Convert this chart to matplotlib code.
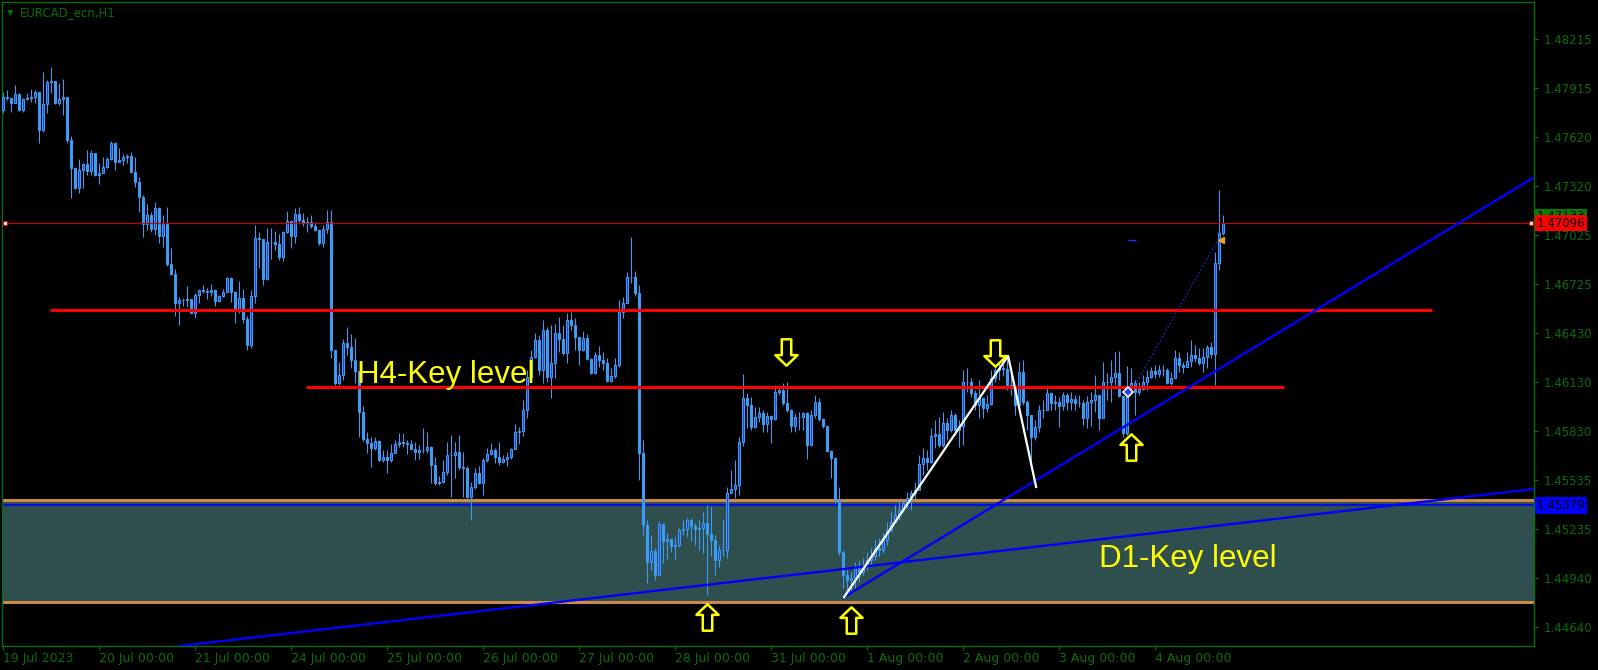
import numpy as np
import matplotlib
matplotlib.use("Agg")
import matplotlib.pyplot as plt
from matplotlib.path import Path

# ---- data (bar index 0 = 19 Jul 00:00) ----
first_open = 1.47783
closes = [
    1.47862, 1.47856, 1.47826, 1.47880, 1.47783, 1.47850, 1.47856, 1.47862, 1.47893, 1.47662,
    1.47820, 1.47953, 1.47960, 1.47826, 1.47850, 1.47862, 1.47601, 1.47431, 1.47309, 1.47418,
    1.47455, 1.47412, 1.47522, 1.47388, 1.47400, 1.47437, 1.47485, 1.47583, 1.47467, 1.47479,
    1.47497, 1.47504, 1.47406, 1.47345, 1.47254, 1.47090, 1.47145, 1.47060, 1.47187, 1.47017,
    1.47090, 1.46847, 1.46786, 1.46610, 1.46628, 1.46628, 1.46634, 1.46549, 1.46658, 1.46689,
    1.46683, 1.46677, 1.46689, 1.46622, 1.46652, 1.46677, 1.46762, 1.46677, 1.46573, 1.46640,
    1.46512, 1.46354, 1.46652, 1.47005, 1.46999, 1.46756, 1.46981, 1.46981, 1.46969, 1.46889,
    1.47041, 1.47108, 1.47017, 1.47151, 1.47114, 1.47096, 1.47102, 1.47078, 1.47054, 1.46975,
    1.47060, 1.47102, 1.46324, 1.46123, 1.46172, 1.46367, 1.46342, 1.46263, 1.46196, 1.45947,
    1.45783, 1.45759, 1.45728, 1.45771, 1.45655, 1.45673, 1.45655, 1.45698, 1.45753, 1.45765,
    1.45759, 1.45753, 1.45722, 1.45704, 1.45716, 1.45716, 1.45734, 1.45625, 1.45515, 1.45521,
    1.45582, 1.45686, 1.45686, 1.45704, 1.45613, 1.45607, 1.45430, 1.45491, 1.45576, 1.45515,
    1.45655, 1.45692, 1.45716, 1.45673, 1.45643, 1.45661, 1.45673, 1.45722, 1.45825, 1.45831,
    1.45959, 1.46160, 1.46281, 1.46385, 1.46202, 1.46446, 1.46160, 1.46245, 1.46427, 1.46391,
    1.46306, 1.46506, 1.46476, 1.46403, 1.46324, 1.46397, 1.46269, 1.46184, 1.46294, 1.46263,
    1.46245, 1.46135, 1.46166, 1.46233, 1.46555, 1.46610, 1.46768, 1.46768, 1.46671, 1.45698,
    1.45260, 1.45035, 1.45102, 1.44956, 1.45266, 1.45163, 1.45175, 1.45132, 1.45138, 1.45230,
    1.45236, 1.45290, 1.45254, 1.45236, 1.45242, 1.45272, 1.45205, 1.45169, 1.45047, 1.45108,
    1.45108, 1.45455, 1.45479, 1.45503, 1.45765, 1.46032, 1.45990, 1.45856, 1.45917, 1.45941,
    1.45874, 1.45923, 1.45904, 1.46069, 1.46081, 1.46002, 1.45959, 1.45862, 1.45917, 1.45917,
    1.45941, 1.45746, 1.45929, 1.46008, 1.45904, 1.45862, 1.45710, 1.45667, 1.45412, 1.45096,
    1.44956, 1.44926, 1.44938, 1.44999, 1.44974, 1.45011, 1.45047, 1.45071, 1.45120, 1.45108,
    1.45169, 1.45230, 1.45278, 1.45321, 1.45351, 1.45394, 1.45424, 1.45455, 1.45473, 1.45631,
    1.45667, 1.45643, 1.45801, 1.45813, 1.45746, 1.45880, 1.45838, 1.45929, 1.45838, 1.45862,
    1.46129, 1.46129, 1.46063, 1.45990, 1.46032, 1.45971, 1.45996, 1.46154, 1.46202, 1.46215,
    1.46209, 1.46111, 1.46093, 1.45990, 1.46190, 1.46008, 1.45929, 1.45795, 1.45856, 1.45959,
    1.45959, 1.46063, 1.46002, 1.46008, 1.45984, 1.46050, 1.46008, 1.46026, 1.46002, 1.46002,
    1.45911, 1.46008, 1.46020, 1.46050, 1.45911, 1.46129, 1.46129, 1.46160, 1.46184, 1.46044,
    1.45819, 1.46093, 1.46123, 1.46069, 1.46087, 1.46129, 1.46160, 1.46196, 1.46178, 1.46202,
    1.46202, 1.46123, 1.46154, 1.46275, 1.46233, 1.46221, 1.46257, 1.46294, 1.46275, 1.46245,
    1.46281, 1.46342, 1.46300, 1.46853, 1.47035, 1.47096,
]
highs = [
    1.47893, 1.47905, 1.47856, 1.47935, 1.47887, 1.47856, 1.47887, 1.47911, 1.47905, 1.47893,
    1.48014, 1.47966, 1.48045, 1.47953, 1.47947, 1.47972, 1.47862, 1.47625, 1.47437, 1.47485,
    1.47461, 1.47540, 1.47540, 1.47522, 1.47461, 1.47497, 1.47497, 1.47595, 1.47589, 1.47552,
    1.47516, 1.47516, 1.47528, 1.47497, 1.47376, 1.47266, 1.47212, 1.47163, 1.47224, 1.47193,
    1.47145, 1.47193, 1.46944, 1.46817, 1.46646, 1.46640, 1.46713, 1.46634, 1.46671, 1.46695,
    1.46719, 1.46701, 1.46725, 1.46695, 1.46658, 1.46695, 1.46768, 1.46768, 1.46683, 1.46743,
    1.46695, 1.46531, 1.46689, 1.47084, 1.47041, 1.46987, 1.47066, 1.47066, 1.47048, 1.47029,
    1.47048, 1.47169, 1.47066, 1.47187, 1.47193, 1.47157, 1.47133, 1.47145, 1.47102, 1.47060,
    1.47084, 1.47175, 1.47175, 1.46324, 1.46251, 1.46391, 1.46464, 1.46421, 1.46397, 1.46196,
    1.45984, 1.45825, 1.45795, 1.45795, 1.45777, 1.45716, 1.45716, 1.45753, 1.45777, 1.45819,
    1.45819, 1.45777, 1.45777, 1.45765, 1.45746, 1.45850, 1.45825, 1.45740, 1.45673, 1.45558,
    1.45655, 1.45765, 1.45807, 1.45765, 1.45807, 1.45704, 1.45619, 1.45521, 1.45607, 1.45619,
    1.45667, 1.45728, 1.45759, 1.45728, 1.45765, 1.45686, 1.45704, 1.45728, 1.45874, 1.45856,
    1.46020, 1.46202, 1.46324, 1.46427, 1.46415, 1.46506, 1.46464, 1.46476, 1.46482, 1.46525,
    1.46476, 1.46549, 1.46555, 1.46519, 1.46403, 1.46440, 1.46421, 1.46275, 1.46312, 1.46348,
    1.46312, 1.46275, 1.46215, 1.46275, 1.46628, 1.46646, 1.46798, 1.47011, 1.46804, 1.46719,
    1.45777, 1.45290, 1.45199, 1.45120, 1.45284, 1.45272, 1.45211, 1.45175, 1.45187, 1.45242,
    1.45290, 1.45303, 1.45303, 1.45272, 1.45290, 1.45339, 1.45382, 1.45376, 1.45199, 1.45138,
    1.45290, 1.45491, 1.45594, 1.45655, 1.45795, 1.46178, 1.46063, 1.46038, 1.45977, 1.45977,
    1.45959, 1.45947, 1.45929, 1.46111, 1.46111, 1.46123, 1.46129, 1.45965, 1.45941, 1.45947,
    1.45947, 1.45947, 1.45959, 1.46050, 1.46032, 1.45911, 1.45868, 1.45716, 1.45673, 1.45491,
    1.45108, 1.45005, 1.44974, 1.45035, 1.45047, 1.45059, 1.45096, 1.45120, 1.45169, 1.45181,
    1.45211, 1.45278, 1.45339, 1.45382, 1.45412, 1.45412, 1.45461, 1.45473, 1.45521, 1.45686,
    1.45728, 1.45716, 1.45850, 1.45898, 1.45917, 1.45947, 1.45911, 1.45959, 1.45941, 1.45898,
    1.46202, 1.46215, 1.46154, 1.46081, 1.46142, 1.45990, 1.46050, 1.46202, 1.46233, 1.46251,
    1.46294, 1.46281, 1.46202, 1.46093, 1.46251, 1.46263, 1.46020, 1.45911, 1.45898, 1.45990,
    1.46020, 1.46111, 1.46069, 1.46050, 1.46038, 1.46069, 1.46063, 1.46069, 1.46050, 1.46050,
    1.46020, 1.46044, 1.46069, 1.46172, 1.46050, 1.46251, 1.46184, 1.46263, 1.46312, 1.46318,
    1.46050, 1.46227, 1.46215, 1.46142, 1.46129, 1.46172, 1.46202, 1.46221, 1.46233, 1.46233,
    1.46233, 1.46215, 1.46190, 1.46324, 1.46312, 1.46251, 1.46312, 1.46385, 1.46354, 1.46336,
    1.46336, 1.46354, 1.46373, 1.46920, 1.47297, 1.47145,
]
lows = [
    1.47765, 1.47844, 1.47771, 1.47826, 1.47777, 1.47771, 1.47844, 1.47832, 1.47826, 1.47583,
    1.47649, 1.47765, 1.47887, 1.47820, 1.47814, 1.47753, 1.47583, 1.47248, 1.47303, 1.47279,
    1.47309, 1.47388, 1.47388, 1.47382, 1.47333, 1.47400, 1.47431, 1.47479, 1.47418, 1.47467,
    1.47449, 1.47461, 1.47400, 1.47315, 1.47163, 1.47011, 1.47054, 1.47041, 1.47023, 1.46975,
    1.46950, 1.46835, 1.46780, 1.46531, 1.46476, 1.46591, 1.46585, 1.46549, 1.46519, 1.46610,
    1.46671, 1.46634, 1.46652, 1.46591, 1.46616, 1.46646, 1.46677, 1.46616, 1.46488, 1.46549,
    1.46488, 1.46324, 1.46336, 1.46610, 1.46823, 1.46719, 1.46750, 1.46877, 1.46932, 1.46871,
    1.46865, 1.47035, 1.46944, 1.46975, 1.47102, 1.47078, 1.47041, 1.47066, 1.47048, 1.46962,
    1.46950, 1.47035, 1.46275, 1.46111, 1.46111, 1.46142, 1.46294, 1.46215, 1.46123, 1.45795,
    1.45771, 1.45698, 1.45613, 1.45716, 1.45649, 1.45643, 1.45576, 1.45643, 1.45698, 1.45734,
    1.45734, 1.45692, 1.45716, 1.45655, 1.45661, 1.45698, 1.45698, 1.45515, 1.45503, 1.45503,
    1.45515, 1.45564, 1.45430, 1.45546, 1.45594, 1.45430, 1.45424, 1.45290, 1.45479, 1.45509,
    1.45442, 1.45643, 1.45686, 1.45637, 1.45625, 1.45637, 1.45619, 1.45661, 1.45722, 1.45753,
    1.45801, 1.45911, 1.46154, 1.46275, 1.46172, 1.46123, 1.46129, 1.46032, 1.46154, 1.46312,
    1.46294, 1.46245, 1.46446, 1.46324, 1.46233, 1.46318, 1.46263, 1.46178, 1.46178, 1.46221,
    1.46202, 1.46129, 1.46129, 1.46154, 1.46221, 1.46519, 1.46616, 1.46731, 1.46652, 1.45534,
    1.45199, 1.44907, 1.44986, 1.44926, 1.44956, 1.45029, 1.45047, 1.45096, 1.45047, 1.45126,
    1.45199, 1.45187, 1.45163, 1.45138, 1.45108, 1.45090, 1.44834, 1.45071, 1.44956, 1.45005,
    1.45071, 1.45059, 1.45455, 1.45424, 1.45442, 1.45740, 1.45850, 1.45838, 1.45850, 1.45886,
    1.45825, 1.45825, 1.45759, 1.45898, 1.46050, 1.45990, 1.45947, 1.45825, 1.45825, 1.45838,
    1.45838, 1.45661, 1.45740, 1.45911, 1.45892, 1.45850, 1.45704, 1.45546, 1.45394, 1.45078,
    1.44877, 1.44841, 1.44853, 1.44877, 1.44913, 1.44956, 1.44986, 1.45017, 1.45047, 1.45071,
    1.45090, 1.45138, 1.45217, 1.45278, 1.45290, 1.45339, 1.45363, 1.45351, 1.45412, 1.45546,
    1.45564, 1.45594, 1.45637, 1.45728, 1.45734, 1.45734, 1.45777, 1.45825, 1.45807, 1.45734,
    1.45746, 1.46069, 1.46038, 1.45959, 1.45911, 1.45911, 1.45947, 1.45990, 1.46129, 1.46142,
    1.46166, 1.46081, 1.46050, 1.45929, 1.45990, 1.45990, 1.45838, 1.45619, 1.45777, 1.45825,
    1.45911, 1.45971, 1.45959, 1.45959, 1.45856, 1.45959, 1.45959, 1.45959, 1.45959, 1.45977,
    1.45868, 1.45850, 1.45862, 1.45947, 1.45838, 1.45959, 1.46020, 1.46008, 1.46111, 1.46038,
    1.45795, 1.45807, 1.46081, 1.45929, 1.46050, 1.46081, 1.46081, 1.46154, 1.46154, 1.46160,
    1.46166, 1.46117, 1.46111, 1.46154, 1.46190, 1.46184, 1.46227, 1.46221, 1.46251, 1.46233,
    1.46190, 1.46215, 1.46275, 1.46111, 1.46810, 1.47023,
]

day_labels = ["19 Jul 2023", "20 Jul 00:00", "21 Jul 00:00", "24 Jul 00:00", "25 Jul 00:00",
              "26 Jul 00:00", "27 Jul 00:00", "28 Jul 00:00", "31 Jul 00:00", "1 Aug 00:00",
              "2 Aug 00:00", "3 Aug 00:00", "4 Aug 00:00"]
bars_per_day = 24
price_ticks = [1.48215, 1.47915, 1.47620, 1.47320, 1.47025, 1.46725, 1.46430,
               1.46130, 1.45830, 1.45535, 1.45235, 1.44940, 1.44640]

bid_price = 1.47096
ask_price = 1.47133
d1_zone = [1.44792, 1.45412]
d1_line = 1.45379
h4_upper = [11.7, 357.2, 1.46567]    # start bar, end bar, price
h4_lower = [75.7, 320.2, 1.46099]
trend_slow = [(43.9, 1.44524), (382.7, 1.45479)]
trend_fast = [(210.2, 1.44822), (382.4, 1.47370)]
swing_path = [(210.2, 1.44822), (251.2, 1.46288), (258.2, 1.45491)]
proj_line = [(282.9, 1.46111), (303.7, 1.46993)]
arrows_down = [(195.7, 1.46312), (247.9, 1.46306)]
arrows_up = [(175.9, 1.44701), (211.9, 1.44683), (281.9, 1.45734)]

# ---- colours ----
GREEN = "#0a6e0a"
CANDLE = "#3d9cf5"
BULL_FILL = "#1f45e0"

n = len(closes)
assert len(highs) == n and len(lows) == n
x = np.arange(n)
c = np.array(closes)
o = np.concatenate([[first_open], c[:-1]])
h = np.maximum(np.array(highs), np.maximum(o, c))
l = np.minimum(np.array(lows), np.minimum(o, c))

W, H = 1598, 670
fig = plt.figure(figsize=(W / 100, H / 100), dpi=100, facecolor="black")
ax = fig.add_axes([2 / W, 24 / H, 1532 / W, 644 / H], facecolor="black")
ax.set_xlim(-0.325, 382.675)
ax.set_ylim(1.445243, 1.484398)

# D1 zone
ax.axhspan(d1_zone[0], d1_zone[1], color="#2f4f4f", zorder=0.5, lw=0)
for p in d1_zone:
    ax.axhline(p, color="#cd8a4a", lw=2.2, zorder=0.6)
ax.axhline(d1_line, color="#0000ff", lw=1.2, zorder=0.7)

# candles
ax.vlines(x, l, h, color=CANDLE, lw=0.75, zorder=2)
bull = c >= o
body_lo = np.minimum(o, c)
body_h = np.abs(c - o)
ax.bar(x[bull], body_h[bull], bottom=body_lo[bull], width=0.5,
       color=BULL_FILL, edgecolor=CANDLE, linewidth=0.75, zorder=3)
ax.bar(x[~bull], body_h[~bull], bottom=body_lo[~bull], width=0.5,
       color=CANDLE, edgecolor=CANDLE, linewidth=0.75, zorder=3)

# bid line with end handles
ax.axhline(bid_price, color="#c80000", lw=0.8, zorder=4)
ax.plot([0.4, 381.9], [bid_price, bid_price], ls="none", marker="s", ms=3.5,
        mfc="white", mec="#e00000", mew=0.8, zorder=5, clip_on=False)

# H4 levels
ax.hlines(h4_upper[2], h4_upper[0], h4_upper[1], color="#ff0000", lw=2.2, zorder=5)
ax.hlines(h4_lower[2], h4_lower[0], h4_lower[1], color="#ff0000", lw=2.2, zorder=5)

# trend lines
for line in (trend_slow, trend_fast):
    xs, ys = zip(*line)
    ax.plot(xs, ys, color="#0000ff", lw=1.7, zorder=6)
xs, ys = zip(*swing_path)
ax.plot(xs, ys, color="white", lw=1.6, zorder=6)
xs, ys = zip(*proj_line)
ax.plot(xs, ys, color="#2030ff", lw=0.8, ls=(0, (1.5, 2)), zorder=6)
ax.hlines(proj_line[1][1], 281.2, 283.2, color="#2030ff", lw=1, zorder=6)
ax.plot([proj_line[1][0] + 0.7], [proj_line[1][1]], marker="<", ms=5, color="#f0a020", zorder=7)
ax.plot([281.2], [1.46069], marker="D", ms=5, mfc="#2040ff", mec="white", mew=1.2, zorder=7)

# hollow arrows
up_verts = [(-0.18, -0.5), (0.18, -0.5), (0.18, 0.1), (0.42, 0.1), (0.0, 0.5),
            (-0.42, 0.1), (-0.18, 0.1), (-0.18, -0.5)]
up_path = Path(up_verts, closed=True)
down_path = Path([(vx, -vy) for vx, vy in up_verts], closed=True)
for ax_x, ax_y in arrows_up:
    ax.plot([ax_x], [ax_y], marker=up_path, ms=19, mfc="none", mec="#ffff00", mew=1.8, zorder=8)
for ax_x, ax_y in arrows_down:
    ax.plot([ax_x], [ax_y], marker=down_path, ms=19, mfc="none", mec="#ffff00", mew=1.8, zorder=8)

# level captions
ax.text(88.4, 1.46123, "H4-Key level", color="#ffff00", fontsize=22.5, family="Liberation Sans",
        va="baseline", ha="left", zorder=9)
ax.text(273.9, 1.45005, "D1-Key level", color="#ffff00", fontsize=22.5, family="Liberation Sans",
        va="baseline", ha="left", zorder=9)

# axes styling
for sp in ax.spines.values():
    sp.set_color(GREEN)
    sp.set_linewidth(1)
ax.yaxis.tick_right()
ax.set_yticks(price_ticks)
ax.set_yticklabels([f"{p:.5f}" for p in price_ticks], fontsize=8.5)
ax.set_xticks([i * bars_per_day for i in range(len(day_labels))])
ax.set_xticklabels(day_labels, fontsize=9)
for lbl in ax.get_xticklabels():
    lbl.set_ha("left")
ax.tick_params(axis="both", colors=GREEN, labelcolor=GREEN, length=3, width=0.8)
ax.tick_params(axis="y", pad=4)
ax.tick_params(axis="x", pad=1.5)

# price tags on the right scale
tag_kw = dict(transform=ax.get_yaxis_transform(), va="center", ha="left", fontsize=8.5,
              color="black", clip_on=False, zorder=10)
ax.text(1.0018, ask_price, "1.47133", bbox=dict(boxstyle="square,pad=0.15", fc="#008000", ec="none"), **tag_kw)
ax.text(1.0018, bid_price, "1.47096", bbox=dict(boxstyle="square,pad=0.15", fc="#ff0000", ec="none"), **tag_kw)
ax.text(1.0018, d1_line, "1.45379", bbox=dict(boxstyle="square,pad=0.15", fc="#0000ff", ec="none"), **tag_kw)

# chart caption
fig.text(10 / W, 1 - 13 / H, "\u25bc", color=GREEN, fontsize=6, va="center", ha="center")
fig.text(20 / W, 1 - 13 / H, "EURCAD_ecn,H1", color=GREEN, fontsize=8.5, va="center", ha="left")

fig.savefig("out.png", dpi=100, facecolor="black")
